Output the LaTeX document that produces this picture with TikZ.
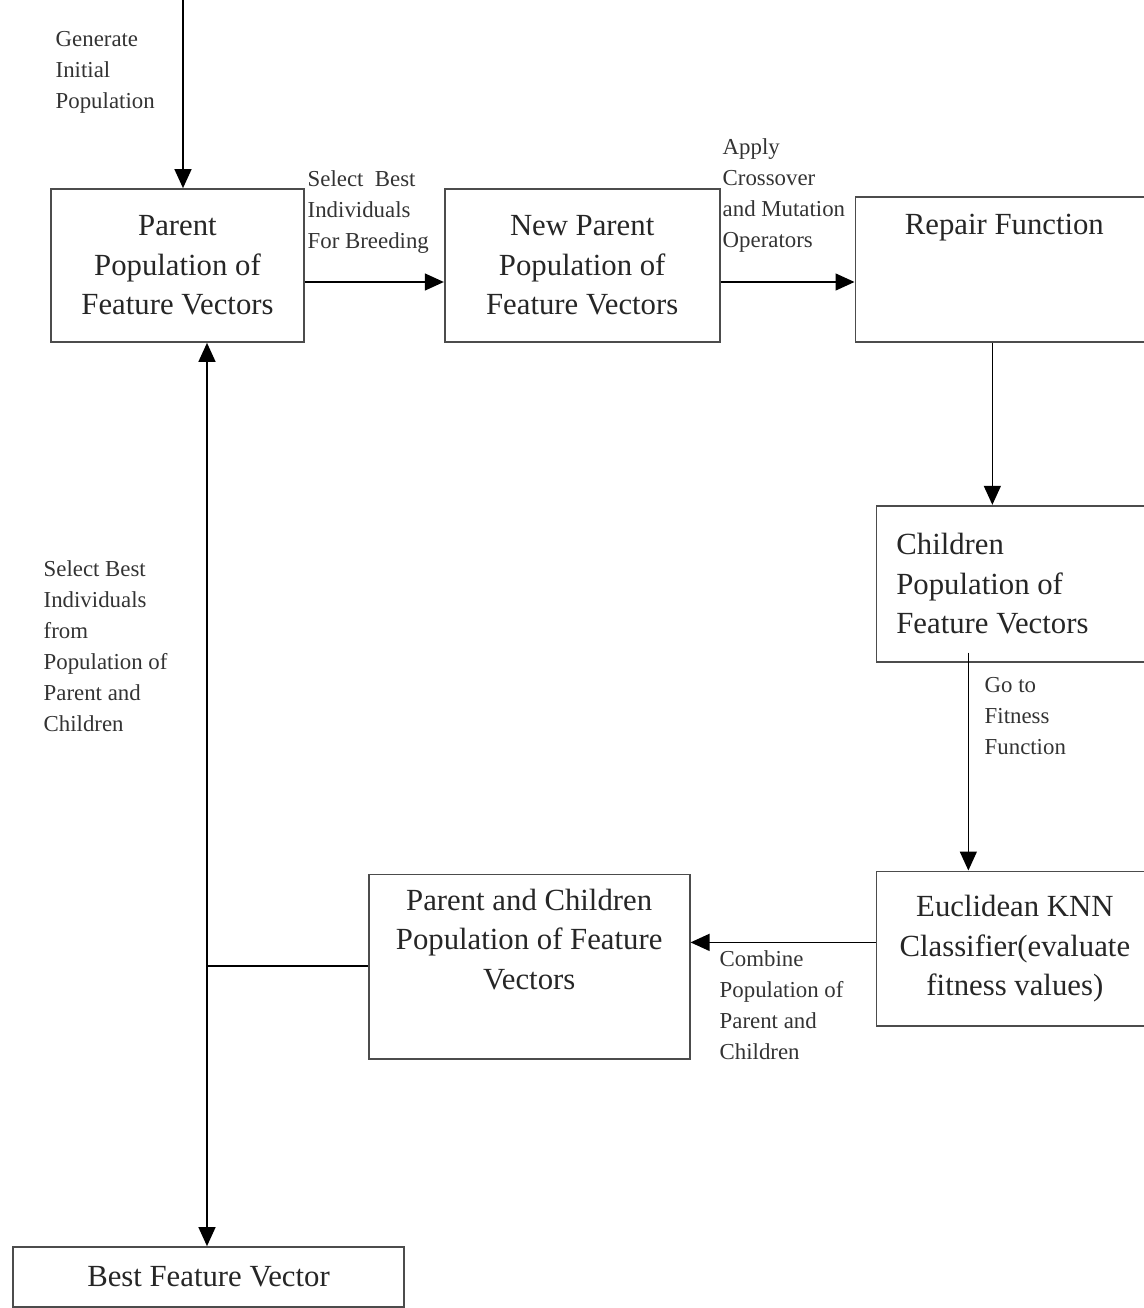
\documentclass[tikz,border=0pt]{standalone}
\usepackage{fontspec}
\setmainfont{Liberation Serif}
\usetikzlibrary{positioning, arrows.meta}
\newcommand\boxfont{\fontsize{17.5}{22.5}\selectfont}
\newcommand\notefont{\fontsize{13}{17.6}\selectfont}
\tikzset{
	->, % every connector gets a head
	>={Triangle[length=0.38cm, width=0.34cm]}, % filled heads as in the figure
	box/.style={draw=black!70, line width=1pt, align=center, font=\boxfont, text=black!85, inner sep=0.2cm}, % the framed stages
	boxcap/.style={font=\boxfont, text=black!85, align=center}, % text set at the top of a frame
	note/.style={align=left, font=\notefont, text=black!80, inner sep=0pt, anchor=north west}, % the small texts next to the connectors
}

\begin{document}
\begin{tikzpicture}[x=0.02cm, y=-0.02cm, line width=0.8pt]
	\useasboundingbox (0,0) rectangle (1143,1308);
			\node[box, minimum width=5.06cm, minimum height=3.06cm] (parent) at (177.5,265.5) {Parent\\Population of\\Feature Vectors};
			\node[box, minimum width=5.5cm, minimum height=3.06cm, right=2.78cm of parent] (newparent) {New Parent\\Population of\\Feature Vectors};
			\node[box, minimum width=5.96cm, minimum height=2.9cm, right=2.68cm of newparent.south east, anchor=south west,
				label={[boxcap, below=0.22cm]north:Repair Function}] (repair) {};
			\node[box, minimum height=3.12cm, text width=4.74cm, inner xsep=0.4cm, align=flush left, below=3.24cm of repair.south east, anchor=north east] (children) {Children\\Population of\\Feature Vectors};
			\node[box, minimum width=5.54cm, minimum height=3.1cm, below=4.16cm of children.south east, anchor=north east] (euclid) {Euclidean KNN\\Classifier(evaluate\\fitness values)};
			\node[box, minimum width=6.42cm, minimum height=3.7cm, left=3.7cm of euclid.north west, anchor=north east, yshift=-0.06cm,
				label={[boxcap, below=0.18cm]north:Parent and Children\\Population of Feature\\Vectors}] (pc) {};
			\node[box, minimum width=7.82cm, minimum height=1.2cm] (best) at (208.5,1277) {Best Feature Vector};

			\node[note] (gen) at (55,31) {Generate\\Initial\\Population};
			\node[note] (breed) at (307,170) {Select~~Best\\Individuals\\For Breeding};
			\node[note] (apply) at (722,138) {Apply\\Crossover\\and Mutation\\Operators};
			\node[note] (gofit) at (984,677) {Go to\\Fitness\\Function};
			\node[note] (combine) at (719,950) {Combine\\Population of\\Parent and\\Children};
			\node[note] (selbest) at (43,560) {Select Best\\Individuals\\from\\Population of\\Parent and\\Children};

			\coordinate (init) at (183,0);
			\coordinate (split) at (207,966);
	\draw 	(init) -- (init |- parent.north);
	\draw 	([yshift=-0.33cm]parent.east) -- ([yshift=-0.33cm]parent.east -| newparent.west);
	\draw 	([yshift=-0.33cm]newparent.east) -- ([yshift=-0.33cm]newparent.east -| repair.west);
	\draw 	([xshift=-0.24cm]repair.south) -- ([xshift=-0.24cm]repair.south |- children.north);
	\draw 	([xshift=-0.93cm, yshift=0.2cm]children.south) -- ([xshift=-0.93cm]children.south |- euclid.north);
	\draw 	([yshift=0.13cm]euclid.west) -- ([yshift=0.13cm]euclid.west -| pc.east);
	\draw[-] (split -| pc.west) -- (split);
	\draw 	(split) -- (split |- parent.south);
	\draw 	(split) -- (split |- best.north);
	\end{tikzpicture}
\end{document}
